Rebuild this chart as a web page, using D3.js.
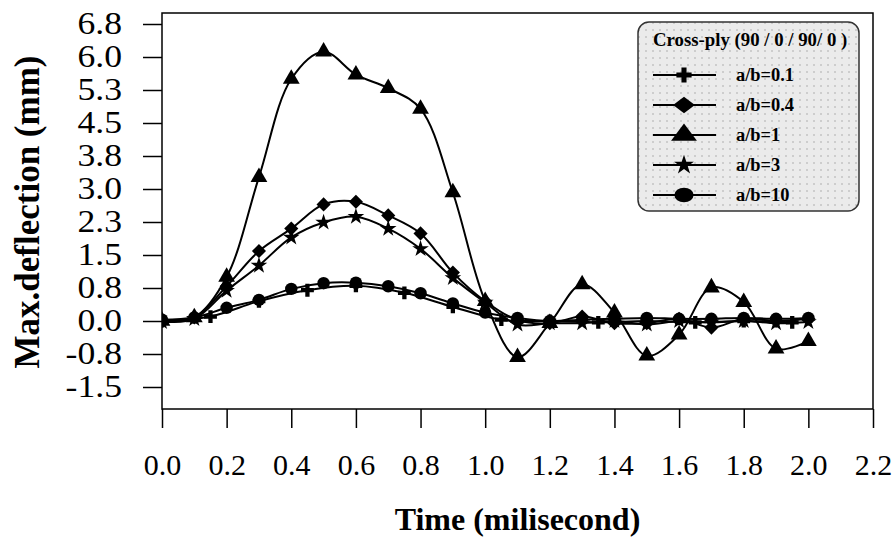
<!DOCTYPE html>
<html>
<head>
<meta charset="utf-8">
<script src="https://cdnjs.cloudflare.com/ajax/libs/d3/7.8.5/d3.min.js"></script>
<style>
  body { margin: 0; background: #fff; }
  text { font-family: "Liberation Serif", "Times New Roman", serif; fill: #000; }
</style>
</head>
<body>
<svg id="chart" width="895" height="539"></svg>
<script>
// sample times (milisecond)
const times = [0.0, 0.1, 0.2, 0.3, 0.4, 0.5, 0.6, 0.7, 0.8, 0.9, 1.0,
  1.1, 1.2, 1.3, 1.4, 1.5, 1.6, 1.7, 1.8, 1.9, 2.0]
const timesAb01 = [0.0, 0.15, 0.3, 0.45, 0.6, 0.75, 0.9, 1.05, 1.2, 1.35, 1.5, 1.65, 1.8, 1.95]

// max deflection (mm)
const ab01 = [0.0, 0.1, 0.45, 0.7, 0.8, 0.64, 0.32, 0.03, 0.0, -0.03, 0.0, -0.03, 0.0, -0.03]
const ab04 = [0.0, 0.08, 0.79, 1.59, 2.1, 2.65, 2.71, 2.4, 1.99, 1.1, 0.45,
  0.02, -0.05, 0.1, -0.05, -0.05, 0.05, -0.15, 0.05, 0.0, 0.05]
const ab1 = [0.0, 0.08, 1.0, 3.27, 5.5, 6.12, 5.6, 5.29, 4.82, 2.92, 0.45,
  -0.82, -0.05, 0.83, 0.19, -0.79, -0.31, 0.76, 0.43, -0.63, -0.46]
const ab3 = [-0.02, 0.05, 0.69, 1.26, 1.9, 2.24, 2.37, 2.1, 1.64, 0.98, 0.42,
  -0.08, -0.05, -0.05, 0.0, -0.08, 0.0, -0.03, 0.0, -0.05, -0.02]
const ab10 = [0.03, 0.08, 0.3, 0.48, 0.73, 0.86, 0.87, 0.79, 0.63, 0.4, 0.19,
  0.07, 0.0, 0.03, 0.05, 0.07, 0.05, 0.05, 0.07, 0.05, 0.07]

const seriesNames = ['a/b=0.1', 'a/b=0.4', 'a/b=1', 'a/b=3', 'a/b=10']
const legendTitle = 'Cross-ply (90 / 0 / 90/ 0 )'

const xTickValues = [0, 0.2, 0.4, 0.6, 0.8, 1.0, 1.2, 1.4, 1.6, 1.8, 2.0, 2.2]
const xTickLabels = ['0.0', '0.2', '0.4', '0.6', '0.8', '1.0', '1.2', '1.4', '1.6', '1.8', '2.0', '2.2']
const yTickValues = [-1.5, -0.75, 0, 0.75, 1.5, 2.25, 3.0, 3.75, 4.5, 5.25, 6.0, 6.75]
const yTickLabels = ['-1.5', '-0.8', '0.0', '0.8', '1.5', '2.3', '3.0', '3.8', '4.5', '5.3', '6.0', '6.8']

const series = [
  {name: seriesNames[0], t: timesAb01, v: ab01, marker: 'cross'},
  {name: seriesNames[1], t: times, v: ab04, marker: 'diamond'},
  {name: seriesNames[2], t: times, v: ab1, marker: 'triangle'},
  {name: seriesNames[3], t: times, v: ab3, marker: 'star'},
  {name: seriesNames[4], t: times, v: ab10, marker: 'circle'}
]

const plot = {left: 162, right: 873, top: 13, bottom: 409}

const svg = d3.select('#chart')

// scales
const x = d3.scaleLinear().domain([0, 2.2]).range([plot.left, plot.right])
const y = d3.scaleLinear().domain([-2, 7]).range([plot.bottom, plot.top])

// marker shapes (legend ones are bigger and a bit wider)
function markerPath(kind, big) {
  const k = big ? 1.4 : 1
  if (kind === 'cross') return d3.symbol(d3.symbolCross, 92 * k)()
  if (kind === 'diamond') return d3.symbol(d3.symbolSquare, 100 * k)()
  if (kind === 'triangle') return d3.symbol(d3.symbolTriangle, 122 * k)()
  if (kind === 'star') return d3.symbol(d3.symbolStar, 86 * k)()
  return d3.symbol(d3.symbolCircle, 122 * k)()
}
function markerTransform(kind, px, py, big) {
  let tr = 'translate(' + px + ',' + py + ')'
  if (big && kind !== 'cross' && kind !== 'star') tr += ' scale(1.3,1)'
  if (kind === 'diamond') tr += ' rotate(45)'
  return tr
}

// dotted legend fill
const defs = svg.append('defs')
const pat = defs.append('pattern')
  .attr('id', 'dots')
  .attr('patternUnits', 'userSpaceOnUse')
  .attr('width', 7)
  .attr('height', 7)
pat.append('rect').attr('width', 7).attr('height', 7).attr('fill', '#ebebeb')
pat.append('circle').attr('cx', 2).attr('cy', 2).attr('r', 1).attr('fill', '#c4c4c4')

defs.append('clipPath').attr('id', 'clip')
  .append('rect')
  .attr('x', plot.left)
  .attr('y', plot.top)
  .attr('width', plot.right - plot.left)
  .attr('height', plot.bottom - plot.top)

// y axis, labels are drawn a little wide like the original
const yAxis = d3.axisLeft(y)
  .tickValues(yTickValues)
  .tickFormat((d, i) => yTickLabels[i])
  .tickSize(19)
  .tickPadding(21)
const gy = svg.append('g')
  .attr('transform', 'translate(' + plot.left + ',0)')
  .call(yAxis)
gy.select('.domain').remove()
gy.selectAll('line').attr('stroke', '#000').attr('stroke-width', 1.5)
gy.selectAll('text')
  .attr('font-size', 31)
  .attr('fill', '#000')
  .attr('x', 0)
  .attr('transform', 'translate(-40,0) scale(1.15,1)')

const xAxis = d3.axisBottom(x)
  .tickValues(xTickValues)
  .tickFormat((d, i) => xTickLabels[i])
  .tickSize(19)
  .tickPadding(26)
const gx = svg.append('g')
  .attr('transform', 'translate(0,' + plot.bottom + ')')
  .call(xAxis)
gx.select('.domain').remove()
gx.selectAll('line').attr('stroke', '#000').attr('stroke-width', 1.5)
gx.selectAll('text').attr('font-size', 30).attr('fill', '#000')

// frame
svg.append('rect')
  .attr('x', plot.left)
  .attr('y', plot.top)
  .attr('width', plot.right - plot.left)
  .attr('height', plot.bottom - plot.top)
  .attr('fill', 'none')
  .attr('stroke', '#000')
  .attr('stroke-width', 1.5)

// axis titles
svg.append('text')
  .attr('x', (plot.left + plot.right) / 2)
  .attr('y', 530)
  .attr('text-anchor', 'middle')
  .attr('font-size', 32)
  .attr('font-weight', 'bold')
  .text('Time (milisecond)')

svg.append('text')
  .attr('transform', 'translate(39,' + ((plot.top + plot.bottom) / 2 + 1) + ') rotate(-90)')
  .attr('text-anchor', 'middle')
  .attr('font-size', 35)
  .attr('font-weight', 'bold')
  .text('Max.deflection (mm)')

// lines and markers
const line = d3.line()
  .x(d => x(d[0]))
  .y(d => y(d[1]))
  .curve(d3.curveCatmullRom)

const plotArea = svg.append('g').attr('clip-path', 'url(#clip)')

series.forEach(function(s) {
  const pts = s.t.map((t, i) => [t, s.v[i]])
  plotArea.append('path')
    .datum(pts)
    .attr('d', line)
    .attr('fill', 'none')
    .attr('stroke', '#000')
    .attr('stroke-width', 2)
  plotArea.selectAll(null)
    .data(pts)
    .enter()
    .append('path')
    .attr('d', markerPath(s.marker, false))
    .attr('transform', d => markerTransform(s.marker, x(d[0]), y(d[1]), false))
    .attr('fill', '#000')
})

// legend
const legend = svg.append('g')
legend.append('rect')
  .attr('x', 638)
  .attr('y', 22)
  .attr('width', 221)
  .attr('height', 189)
  .attr('rx', 11)
  .attr('fill', 'url(#dots)')
  .attr('stroke', '#333')
  .attr('stroke-width', 1.5)

legend.append('text')
  .attr('x', 653)
  .attr('y', 46)
  .attr('font-size', 18.8)
  .attr('font-weight', 'bold')
  .text(legendTitle)

series.forEach(function(s, i) {
  const cy = 75 + i * 30
  legend.append('line')
    .attr('x1', 653)
    .attr('x2', 716)
    .attr('y1', cy)
    .attr('y2', cy)
    .attr('stroke', '#000')
    .attr('stroke-width', 2)
  legend.append('path')
    .attr('d', markerPath(s.marker, true))
    .attr('transform', markerTransform(s.marker, 684, cy, true))
    .attr('fill', '#000')
  legend.append('text')
    .attr('x', 736)
    .attr('y', cy + 6)
    .attr('font-size', 18.4)
    .attr('font-weight', 'bold')
    .text(s.name)
})
</script>
</body>
</html>
